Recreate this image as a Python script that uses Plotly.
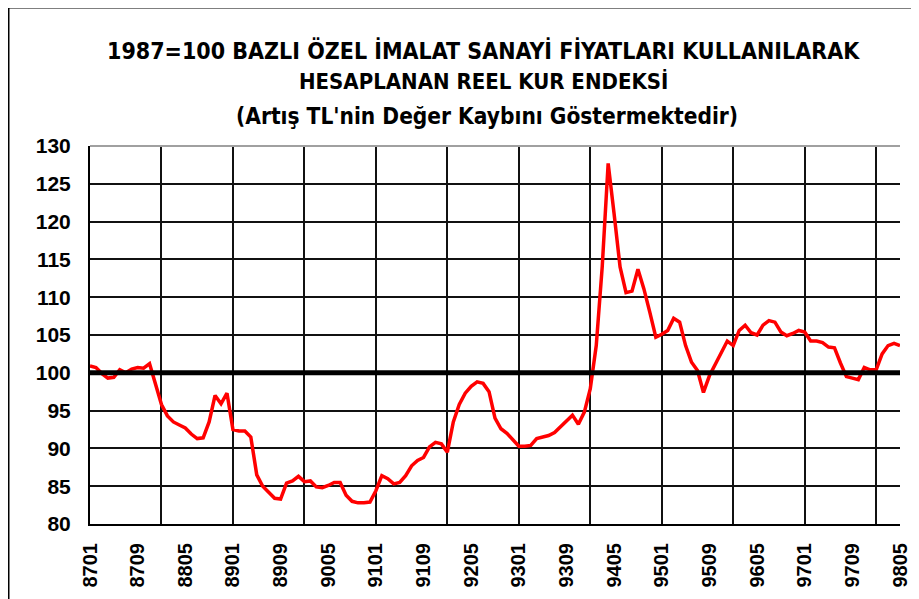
import plotly.graph_objects as go

# Month labels YYMM from 8701 to 9805
months = [f"{y % 100:02d}{m:02d}" for y in range(1987, 1999) for m in range(1, 13)][:137]

values = [
    100.9, 100.7, 99.9, 99.3, 99.4, 100.4, 100.0, 100.5, 100.7, 100.6, 101.2, 98.3,   # 1987
    95.8, 94.3, 93.5, 93.1, 92.7, 91.9, 91.3, 91.4, 93.5, 97.0, 95.9, 97.3,           # 1988
    92.5, 92.3, 92.3, 91.5, 86.5, 85.0, 84.2, 83.4, 83.3, 85.4, 85.7, 86.3,           # 1989
    85.6, 85.7, 84.9, 84.8, 85.1, 85.5, 85.5, 83.8, 83.0, 82.8, 82.8, 82.9,           # 1990
    84.4, 86.4, 86.0, 85.3, 85.5, 86.4, 87.7, 88.4, 88.8, 90.2, 90.8, 90.6,           # 1991
    89.5, 93.5, 95.8, 97.3, 98.2, 98.8, 98.6, 97.5, 94.0, 92.6, 92.0, 91.2,           # 1992
    90.3, 90.3, 90.4, 91.3, 91.5, 91.7, 92.1, 92.9, 93.7, 94.4, 93.2, 94.8,           # 1993
    97.9, 103.6, 114.0, 127.7, 121.0, 114.0, 110.6, 110.8, 113.7, 111.1, 108.0, 104.7, # 1994
    105.1, 105.6, 107.2, 106.7, 103.6, 101.4, 100.3, 97.4, 99.6, 101.1, 102.7, 104.2, # 1995
    103.6, 105.6, 106.3, 105.3, 105.0, 106.3, 106.9, 106.7, 105.4, 104.9, 105.2, 105.6, # 1996
    105.4, 104.2, 104.2, 104.0, 103.4, 103.3, 101.3, 99.5, 99.3, 99.1, 100.7, 100.4,  # 1997
    100.4, 102.5, 103.6, 103.9, 103.6,                                               # 1998
]

title_lines = [
    "1987=100 BAZLI ÖZEL İMALAT SANAYİ FİYATLARI KULLANILARAK",
    "HESAPLANAN REEL KUR ENDEKSİ",
    "(Artış TL'nin Değer Kaybını Göstermektedir)",
]
y_ticks = [80, 85, 90, 95, 100, 105, 110, 115, 120, 125, 130]

xs = list(range(len(months)))
label_idx = xs[::8]
grid_idx = xs[::12]

# The page body has an 8px default margin: work in figure coords = screen - 8
OFF = 8
W, H = 919 - OFF, 599 - OFF
L, T = 90 - OFF, 146 - OFF
R = W - (900 - OFF)
B = H - (524 - OFF)
PW, PH = W - L - R, H - T - B

def px(xs_screen):
    return (xs_screen - OFF - L) / PW

def py(ys_screen):
    return (H - B - (ys_screen - OFF)) / PH

title_font = "DejaVu Sans Condensed, Liberation Sans Narrow, Liberation Sans, sans-serif"
sans = "Liberation Sans, Arial, sans-serif"

fig = go.Figure()
fig.add_trace(go.Scatter(
    x=xs, y=values, mode="lines",
    line=dict(color="#FF0000", width=3.5),
    text=months, hovertemplate="%{text}: %{y}<extra></extra>",
    showlegend=False,
))
fig.add_hline(y=100, line=dict(color="black", width=5))

fig.update_layout(
    width=W, height=H,
    margin=dict(l=L, r=R, t=T, b=B, autoexpand=False),
    paper_bgcolor="white", plot_bgcolor="white",
    showlegend=False,
    xaxis=dict(
        range=[0, len(months) - 1], automargin=False,
        tickmode="array", tickvals=label_idx,
        ticktext=[months[i] for i in label_idx],
        tickangle=-90, ticks="", showgrid=False, zeroline=False,
        showline=True, linecolor="black", linewidth=2,
        ticklabelstandoff=9,
        tickfont=dict(family=sans, size=20, color="black", weight="bold"),
        minor=dict(tickmode="array", tickvals=grid_idx, showgrid=True,
                   gridcolor="#111111", gridwidth=2, ticks=""),
    ),
    yaxis=dict(
        range=[80, 130], automargin=False, tickmode="array", tickvals=y_ticks,
        ticks="", showgrid=True, gridcolor="#111111", gridwidth=2,
        zeroline=False, showline=True, linecolor="black", linewidth=2,
        ticklabelstandoff=13,
        tickfont=dict(family=sans, size=21, color="black", weight="bold"),
    ),
    shapes=[
        dict(type="line", xref="paper", yref="paper", x0=1, x1=1, y0=0, y1=1,
             line=dict(color="#a0a0a0", width=2)),
        dict(type="line", xref="paper", yref="paper", x0=0, x1=1, y0=1, y1=1,
             line=dict(color="#a0a0a0", width=2)),
        dict(type="rect", xref="paper", yref="paper",
             x0=px(8.5), x1=px(940), y0=py(630), y1=py(7.5),
             line=dict(color="black", width=2), layer="below"),
    ],
    annotations=[
        dict(text=title_lines[0], xref="paper", yref="paper", x=px(483), y=py(50),
             xanchor="center", yanchor="middle", showarrow=False,
             font=dict(family=title_font, size=23, color="black", weight="bold")),
        dict(text=title_lines[1], xref="paper", yref="paper", x=px(483), y=py(81),
             xanchor="center", yanchor="middle", showarrow=False,
             font=dict(family=title_font, size=22, color="black", weight="bold")),
        dict(text=title_lines[2], xref="paper", yref="paper", x=px(487), y=py(116),
             xanchor="center", yanchor="middle", showarrow=False,
             font=dict(family=title_font, size=22.5, color="black", weight="bold")),
    ],
)

fig.write_html("out.html")
